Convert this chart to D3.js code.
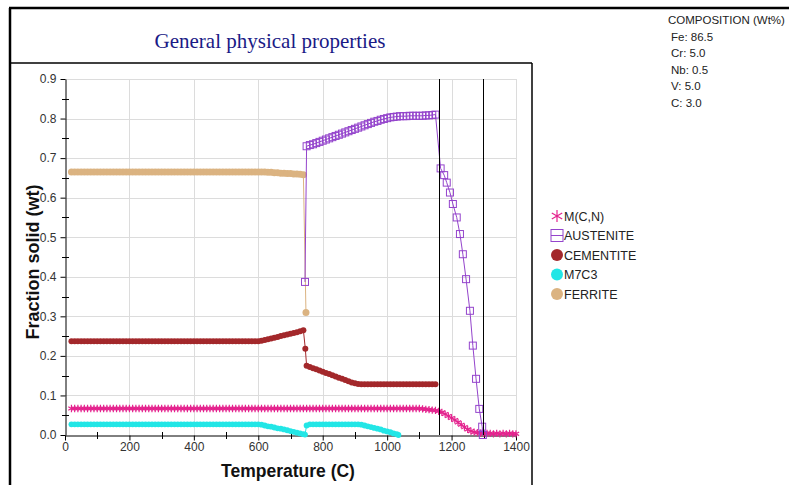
<!DOCTYPE html>
<html>
<head>
<meta charset="utf-8">
<script src="https://cdn.jsdelivr.net/npm/d3@7"></script>
<style>
  html, body { margin: 0; padding: 0; background: #fff; }
  svg { display: block; }
</style>
</head>
<body>
<svg id="chart" width="789" height="485"></svg>
<script>
// ---- Data: phase fraction (wt) versus temperature (C) ----
const ferrite = [
  [20,.665],[30,.665],[40,.665],[50,.665],[60,.665],[70,.665],[80,.665],[90,.665],[100,.665],
  [110,.665],[120,.665],[130,.665],[140,.665],[150,.665],[160,.665],[170,.665],[180,.665],[190,.665],[200,.665],
  [210,.665],[220,.665],[230,.665],[240,.665],[250,.665],[260,.665],[270,.665],[280,.665],[290,.665],[300,.665],
  [310,.665],[320,.665],[330,.665],[340,.665],[350,.665],[360,.665],[370,.665],[380,.665],[390,.665],[400,.665],
  [410,.665],[420,.665],[430,.665],[440,.665],[450,.665],[460,.665],[470,.665],[480,.665],[490,.665],[500,.665],
  [510,.665],[520,.665],[530,.665],[540,.665],[550,.665],[560,.665],[570,.665],[580,.665],[590,.665],[600,.665],
  [610,.665],[620,.665],[630,.664],[640,.664],[650,.663],[660,.663],[670,.662],[680,.662],[690,.661],[700,.661],
  [710,.660],[720,.660],[730,.659],[740,.658],[748,.310]
];

const cementite = [
  [20,.237],[30,.237],[40,.237],[50,.237],[60,.237],[70,.237],[80,.237],[90,.237],[100,.237],
  [110,.237],[120,.237],[130,.237],[140,.237],[150,.237],[160,.237],[170,.237],[180,.237],[190,.237],[200,.237],
  [210,.237],[220,.237],[230,.237],[240,.237],[250,.237],[260,.237],[270,.237],[280,.237],[290,.237],[300,.237],
  [310,.237],[320,.237],[330,.237],[340,.237],[350,.237],[360,.237],[370,.237],[380,.237],[390,.237],[400,.237],
  [410,.237],[420,.237],[430,.237],[440,.237],[450,.237],[460,.237],[470,.237],[480,.237],[490,.237],[500,.237],
  [510,.237],[520,.237],[530,.237],[540,.237],[550,.237],[560,.237],[570,.237],[580,.237],[590,.237],[600,.237],
  [610,.238],[620,.240],[630,.242],[640,.244],[650,.246],[660,.248],[670,.250],[680,.252],[690,.254],[700,.256],
  [710,.258],[720,.260],[730,.262],[740,.265],[746,.218],[750,.175],
  [760,.172],[770,.169],[780,.166],[790,.163],[800,.160],[810,.157],[820,.154],[830,.151],[840,.148],[850,.145],
  [860,.142],[870,.139],[880,.136],[890,.133],[900,.131],[910,.129],[920,.128],[930,.128],[940,.128],[950,.128],
  [960,.128],[970,.128],[980,.128],[990,.128],[1000,.128],[1010,.128],[1020,.128],[1030,.128],[1040,.128],[1050,.128],
  [1060,.128],[1070,.128],[1080,.128],[1090,.128],[1100,.128],[1110,.128],[1120,.128],[1130,.128],[1140,.128],[1150,.128]
];

const m7c3 = [
  [20,.027],[30,.027],[40,.027],[50,.027],[60,.027],[70,.027],[80,.027],[90,.027],[100,.027],
  [110,.027],[120,.027],[130,.027],[140,.027],[150,.027],[160,.027],[170,.027],[180,.027],[190,.027],[200,.027],
  [210,.027],[220,.027],[230,.027],[240,.027],[250,.027],[260,.027],[270,.027],[280,.027],[290,.027],[300,.027],
  [310,.027],[320,.027],[330,.027],[340,.027],[350,.027],[360,.027],[370,.027],[380,.027],[390,.027],[400,.027],
  [410,.027],[420,.027],[430,.027],[440,.027],[450,.027],[460,.027],[470,.027],[480,.027],[490,.027],[500,.027],
  [510,.027],[520,.027],[530,.027],[540,.027],[550,.027],[560,.027],[570,.027],[580,.027],[590,.027],[600,.027],
  [610,.026],[620,.024],[630,.022],[640,.021],[650,.019],[660,.017],[670,.016],[680,.014],[690,.012],[700,.010],
  [710,.008],[720,.006],[730,.004],[740,.002],[745,.001],[750,.024],
  [760,.027],[770,.027],[780,.027],[790,.027],[800,.027],[810,.027],[820,.027],[830,.027],[840,.027],[850,.027],
  [860,.027],[870,.027],[880,.027],[890,.027],[900,.027],[910,.027],[920,.026],[930,.024],[940,.022],[950,.020],
  [960,.018],[970,.016],[980,.014],[990,.011],[1000,.009],[1010,.007],[1020,.004],[1030,.002],[1035,.000]
];

const mcn = [
  [20,.067],[30,.067],[40,.067],[50,.067],[60,.067],[70,.067],[80,.067],[90,.067],[100,.067],
  [110,.067],[120,.067],[130,.067],[140,.067],[150,.067],[160,.067],[170,.067],[180,.067],[190,.067],[200,.067],
  [210,.067],[220,.067],[230,.067],[240,.067],[250,.067],[260,.067],[270,.067],[280,.067],[290,.067],[300,.067],
  [310,.067],[320,.067],[330,.067],[340,.067],[350,.067],[360,.067],[370,.067],[380,.067],[390,.067],[400,.067],
  [410,.067],[420,.067],[430,.067],[440,.067],[450,.067],[460,.067],[470,.067],[480,.067],[490,.067],[500,.067],
  [510,.067],[520,.067],[530,.067],[540,.067],[550,.067],[560,.067],[570,.067],[580,.067],[590,.067],[600,.067],
  [610,.067],[620,.067],[630,.067],[640,.067],[650,.067],[660,.067],[670,.067],[680,.067],[690,.067],[700,.067],
  [710,.067],[720,.067],[730,.067],[740,.067],[750,.067],[760,.067],[770,.067],[780,.067],[790,.067],[800,.067],
  [810,.067],[820,.067],[830,.067],[840,.067],[850,.067],[860,.067],[870,.067],[880,.067],[890,.067],[900,.067],
  [910,.067],[920,.067],[930,.067],[940,.067],[950,.067],[960,.067],[970,.067],[980,.067],[990,.067],[1000,.067],
  [1010,.067],[1020,.067],[1030,.067],[1040,.067],[1050,.067],[1060,.067],[1070,.067],[1080,.067],[1090,.067],[1100,.067],
  [1110,.066],[1120,.065],[1130,.064],[1140,.063],[1150,.062],[1160,.060],[1170,.057],[1180,.053],[1190,.048],[1200,.043],
  [1210,.038],[1220,.032],[1230,.026],[1240,.020],[1250,.014],[1260,.010],[1270,.007],[1280,.006],[1290,.005],[1300,.004],
  [1310,.004],[1320,.004],[1330,.003],[1340,.004],[1350,.003],[1360,.004],[1370,.003],[1380,.004],[1390,.003],[1400,.003]
];

const austenite = [
  [745,.387],[750,.730],[760,.733],[770,.735],[780,.738],[790,.741],[800,.744],[810,.747],[820,.750],[830,.753],
  [840,.756],[850,.759],[860,.762],[870,.765],[880,.768],[890,.771],[900,.774],[910,.777],[920,.780],[930,.783],
  [940,.786],[950,.789],[960,.792],[970,.794],[980,.797],[990,.799],[1000,.801],[1010,.803],[1020,.804],[1030,.805],
  [1040,.806],[1050,.806],[1060,.806],[1070,.807],[1080,.807],[1090,.807],[1100,.807],[1110,.807],[1120,.808],[1130,.808],
  [1140,.809],[1150,.810],
  [1166,.674],[1177,.657],[1185,.638],[1195,.613],[1204,.584],[1216,.550],[1226,.508],[1235,.457],[1245,.394],
  [1257,.314],[1266,.226],[1276,.142],[1286,.066],[1295,.021],[1297,.000]
];

// Solidus / liquidus reference temperatures
const transitionTemps = [1162, 1297];

const xTicks = [0, 200, 400, 600, 800, 1000, 1200, 1400];
const xMinorTicks = [100, 300, 500, 700, 900, 1100, 1300];
const yTicks = [0, .1, .2, .3, .4, .5, .6, .7, .8, .9];
const yMinorTicks = [.05, .15, .25, .35, .45, .55, .65, .75, .85];

const compositionLines = ["COMPOSITION (Wt%)", "Fe: 86.5", "Cr: 5.0", "Nb: 0.5", "V: 5.0", "C: 3.0"];

// ---- Styling ----
const series = [
  { name: "FERRITE",    data: ferrite,   color: "#dbb381", marker: "circle", r: 3.5 },
  { name: "M7C3",       data: m7c3,      color: "#22e6e6", marker: "circle", r: 2.9 },
  { name: "CEMENTITE",  data: cementite, color: "#a3282b", marker: "circle", r: 3 },
  { name: "M(C,N)",     data: mcn,       color: "#e4238e", marker: "star",   r: 3.6 },
  { name: "AUSTENITE",  data: austenite, color: "#9444cc", marker: "square", r: 3.5 }
];
const legendOrder = ["M(C,N)", "AUSTENITE", "CEMENTITE", "M7C3", "FERRITE"];

const svg = d3.select("#chart");
const W = 789, H = 485;
svg.append("rect").attr("width", W).attr("height", H).attr("fill", "#fff");

const plot = { left: 65, right: 516, top: 79, bottom: 435 };
const x = d3.scaleLinear().domain([0, 1400]).range([plot.left, plot.right]);
const y = d3.scaleLinear().domain([0, 0.9]).range([plot.bottom, plot.top]);

// Frame
const frame = svg.append("g").attr("stroke", "#000").attr("fill", "none");
frame.append("line").attr("x1", 9).attr("x2", W).attr("y1", 8).attr("y2", 8).attr("stroke-width", 2.5);
frame.append("line").attr("x1", 10).attr("x2", 10).attr("y1", 8).attr("y2", H).attr("stroke-width", 2.5);
frame.append("line").attr("x1", 10).attr("x2", 532).attr("y1", 63).attr("y2", 63).attr("stroke-width", 1.5);
frame.append("line").attr("x1", 532).attr("x2", 532).attr("y1", 63).attr("y2", H).attr("stroke-width", 1.5);

// Title
svg.append("text")
  .attr("x", 270).attr("y", 48)
  .attr("text-anchor", "middle")
  .attr("font-family", "'Liberation Serif', 'Times New Roman', serif")
  .attr("font-size", 21)
  .attr("fill", "#1a1a86")
  .text("General physical properties");

// Grid
const grid = svg.append("g").attr("stroke", "#dcdcdc").attr("stroke-width", 1);
grid.selectAll("line.h").data(yTicks.filter(d => d > 0)).join("line")
  .attr("x1", plot.left).attr("x2", plot.right)
  .attr("y1", d => Math.round(y(d)) + 0.5).attr("y2", d => Math.round(y(d)) + 0.5);
grid.selectAll("line.v").data(xTicks.filter(d => d > 0)).join("line")
  .attr("y1", plot.top).attr("y2", plot.bottom)
  .attr("x1", d => Math.round(x(d)) + 0.5).attr("x2", d => Math.round(x(d)) + 0.5);

// Axes
const tickFont = "'Liberation Sans', Arial, sans-serif";
const xAxis = svg.append("g").attr("transform", `translate(0,${plot.bottom + 0.5})`)
  .call(d3.axisBottom(x).tickValues(xTicks).tickSize(5).tickSizeOuter(0).tickFormat(d3.format("d")));
const yAxis = svg.append("g").attr("transform", `translate(${plot.left + 0.5},0)`)
  .call(d3.axisLeft(y).tickValues(yTicks).tickSize(5).tickSizeOuter(0).tickFormat(d3.format(".1f")));
[xAxis, yAxis].forEach(g => {
  g.select(".domain").attr("stroke", "#000");
  g.selectAll(".tick line").attr("stroke", "#000");
  g.selectAll(".tick text").attr("font-family", tickFont).attr("font-size", 12).attr("fill", "#333");
});
xAxis.selectAll(".tick text").attr("dy", "0.6em");
yAxis.selectAll(".tick text").attr("dx", "-1px");

// Minor ticks crossing the axis lines
svg.append("g").attr("stroke", "#000").selectAll("line").data(xMinorTicks).join("line")
  .attr("x1", d => Math.round(x(d)) + 0.5).attr("x2", d => Math.round(x(d)) + 0.5)
  .attr("y1", plot.bottom - 3).attr("y2", plot.bottom + 4);
svg.append("g").attr("stroke", "#000").selectAll("line").data(yMinorTicks).join("line")
  .attr("y1", d => Math.round(y(d)) + 0.5).attr("y2", d => Math.round(y(d)) + 0.5)
  .attr("x1", plot.left - 3).attr("x2", plot.left + 4);

// Axis titles
svg.append("text")
  .attr("x", 288).attr("y", 477)
  .attr("text-anchor", "middle")
  .attr("font-family", tickFont).attr("font-weight", "bold").attr("font-size", 17.5)
  .attr("fill", "#111")
  .text("Temperature (C)");
svg.append("text")
  .attr("transform", `translate(39,262) rotate(-90)`)
  .attr("text-anchor", "middle")
  .attr("font-family", tickFont).attr("font-weight", "bold").attr("font-size", 18)
  .attr("fill", "#111")
  .text("Fraction solid (wt)");

// Marker drawing
function drawMarker(sel, s, size) {
  const r = size || s.r;
  if (s.marker === "circle") {
    sel.append("circle").attr("r", r).attr("fill", s.color);
  } else if (s.marker === "square") {
    sel.append("rect").attr("x", -r).attr("y", -r).attr("width", 2 * r).attr("height", 2 * r)
      .attr("fill", "none").attr("stroke", s.color).attr("stroke-width", 1);
  } else if (s.marker === "star") {
    const area = Math.pow(r / 0.59436, 2);
    sel.append("path").attr("d", d3.symbol(d3.symbolAsterisk, area)())
      .attr("fill", "none").attr("stroke", s.color).attr("stroke-width", 1.2);
  }
}

const line = d3.line().x(d => x(d[0])).y(d => y(d[1]));
const seriesG = svg.append("g");
series.forEach(s => {
  const g = seriesG.append("g");
  g.append("path").datum(s.data).attr("d", line)
    .attr("fill", "none").attr("stroke", s.color).attr("stroke-width", 1);
  g.selectAll("g.m").data(s.data).join("g")
    .attr("transform", d => `translate(${x(d[0])},${y(d[1])})`)
    .each(function () { drawMarker(d3.select(this), s); });
});

// Reference temperature lines
svg.append("g").selectAll("line").data(transitionTemps).join("line")
  .attr("x1", d => Math.round(x(d)) + 0.5).attr("x2", d => Math.round(x(d)) + 0.5)
  .attr("y1", plot.top).attr("y2", plot.bottom)
  .attr("stroke", "#000").attr("stroke-width", 1);

// Legend
const legend = svg.append("g").attr("transform", "translate(557,216)");
legendOrder.forEach((name, i) => {
  const s = series.find(d => d.name === name);
  const row = legend.append("g").attr("transform", `translate(0,${i * 19.5})`);
  const m = row.append("g");
  drawMarker(m, s, 6);
  if (s.marker === "square") {
    m.append("line").attr("x1", -6).attr("x2", 6).attr("stroke", s.color);
  }
  row.append("text").attr("x", 7).attr("dy", "0.36em")
    .attr("font-family", tickFont).attr("font-size", 12.5).attr("fill", "#222")
    .text(name);
});

// Composition block
const comp = svg.append("g");
comp.selectAll("text").data(compositionLines).join("text")
  .attr("x", (d, i) => i === 0 ? 668 : 671)
  .attr("y", (d, i) => 24 + i * 16.6)
  .attr("font-family", tickFont).attr("font-size", 11.5).attr("fill", "#222")
  .text(d => d);
</script>
</body>
</html>
